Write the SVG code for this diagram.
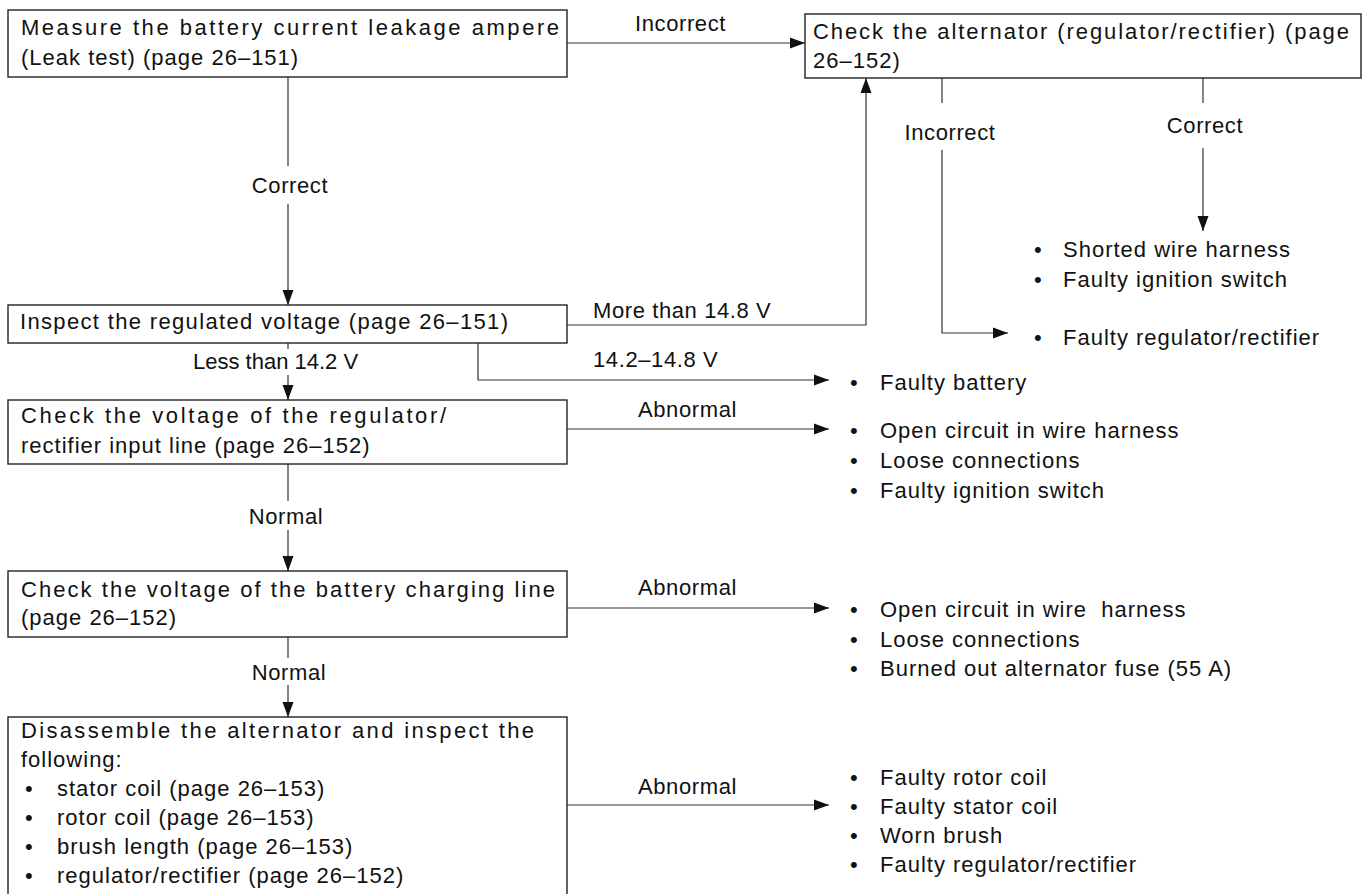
<svg xmlns="http://www.w3.org/2000/svg" width="1365" height="894" viewBox="0 0 1365 894">
  <defs>
    <marker id="arrow" markerUnits="userSpaceOnUse" markerWidth="16" markerHeight="12" refX="15" refY="6" orient="auto">
      <path d="M0,0.5 L15,6 L0,11.5 Z" fill="#111"/>
    </marker>
    <style>
      .box { fill: #fff; stroke: #222; stroke-width: 1.4; }
      .t { font-family: "Liberation Sans", Arial, sans-serif; font-size: 22px; fill: #111; letter-spacing: 1px; }
      .lbl { font-family: "Liberation Sans", Arial, sans-serif; font-size: 22px; fill: #111; letter-spacing: 0.6px; }
      .tight { letter-spacing: 0; }
      .mid { text-anchor: middle; }
      .wire { fill: none; stroke: #333; stroke-width: 1.2; }
      .arr { marker-end: url(#arrow); }
    </style>
  </defs>

  <rect width="1365" height="894" fill="#fff"/>

  <!-- connectors and their branch labels -->
  <g id="connectors">
    <!-- leak test -> alternator check -->
    <path class="wire arr" d="M567,43 H805"/>
    <text class="lbl" x="635" y="31">Incorrect</text>

    <!-- leak test -> regulated voltage -->
    <path class="wire" d="M288,77 V166"/>
    <text class="lbl mid" x="290" y="193">Correct</text>
    <path class="wire arr" d="M288,204 V305"/>

    <!-- regulated voltage -> alternator check -->
    <path class="wire arr" d="M567,325 H866 V78"/>
    <text class="lbl" x="593" y="318">More than 14.8 V</text>

    <!-- regulated voltage -> faulty battery -->
    <path class="wire arr" d="M478,343 V380 H829"/>
    <text class="lbl" x="593" y="367">14.2–14.8 V</text>

    <!-- regulated voltage -> input line check -->
    <path class="wire" d="M288,343 V349"/>
    <text class="lbl tight" x="193" y="369">Less than 14.2 V</text>
    <path class="wire arr" d="M288,375 V400"/>

    <!-- alternator check -> regulator/rectifier fault -->
    <path class="wire" d="M942,78 V103"/>
    <text class="lbl mid" x="950" y="140">Incorrect</text>
    <path class="wire arr" d="M942,150 V333 H1008"/>

    <!-- alternator check -> harness / switch faults -->
    <path class="wire" d="M1203,78 V103"/>
    <text class="lbl mid" x="1205" y="133">Correct</text>
    <path class="wire arr" d="M1203,148 V231"/>

    <!-- input line check -> faults -->
    <path class="wire arr" d="M567,429 H829"/>
    <text class="lbl" x="638" y="417">Abnormal</text>

    <!-- input line check -> charging line check -->
    <path class="wire" d="M288,464 V501"/>
    <text class="lbl mid" x="286" y="524">Normal</text>
    <path class="wire arr" d="M288,530 V571"/>

    <!-- charging line check -> faults -->
    <path class="wire arr" d="M567,608 H829"/>
    <text class="lbl" x="638" y="595">Abnormal</text>

    <!-- charging line check -> disassembly -->
    <path class="wire" d="M288,637 V658"/>
    <text class="lbl mid" x="289" y="680">Normal</text>
    <path class="wire arr" d="M288,685 V717"/>

    <!-- disassembly -> faults -->
    <path class="wire arr" d="M567,805 H829"/>
    <text class="lbl" x="638" y="794">Abnormal</text>
  </g>

  <!-- step boxes -->
  <g id="n-leak">
    <rect class="box" x="8" y="10" width="559" height="67"/>
    <text class="t" x="21" y="35" textLength="539">Measure the battery current leakage ampere</text>
    <text class="t" x="21" y="65">(Leak test) (page 26–151)</text>
  </g>

  <g id="n-alternator">
    <rect class="box" x="805" y="14" width="556" height="64"/>
    <text class="t" x="813" y="39" textLength="537">Check the alternator (regulator/rectifier) (page</text>
    <text class="t" x="813" y="68">26–152)</text>
  </g>

  <g id="n-regulated">
    <rect class="box" x="8" y="305" width="559" height="38"/>
    <text class="t" x="20" y="329" textLength="489">Inspect the regulated voltage (page 26–151)</text>
  </g>

  <g id="n-input">
    <rect class="box" x="8" y="400" width="559" height="64"/>
    <text class="t" x="21" y="423" textLength="426">Check the voltage of the regulator/</text>
    <text class="t" x="21" y="453">rectifier input line (page 26–152)</text>
  </g>

  <g id="n-charging">
    <rect class="box" x="8" y="571" width="559" height="66"/>
    <text class="t" x="21" y="597" textLength="535">Check the voltage of the battery charging line</text>
    <text class="t" x="21" y="625">(page 26–152)</text>
  </g>

  <g id="n-disassemble">
    <rect class="box" x="8" y="717" width="559" height="200"/>
    <text class="t" x="21" y="738" textLength="514">Disassemble the alternator and inspect the</text>
    <text class="t" x="21" y="767">following:</text>
    <text class="t" x="25" y="796">•</text><text class="t" x="57" y="796">stator coil (page 26–153)</text>
    <text class="t" x="25" y="825">•</text><text class="t" x="57" y="825">rotor coil (page 26–153)</text>
    <text class="t" x="25" y="854">•</text><text class="t" x="57" y="854">brush length (page 26–153)</text>
    <text class="t" x="25" y="883">•</text><text class="t" x="57" y="883">regulator/rectifier (page 26–152)</text>
  </g>

  <!-- fault lists -->
  <g id="r-harness-switch">
    <text class="t" x="1034" y="257">•</text><text class="t" x="1063" y="257">Shorted wire harness</text>
    <text class="t" x="1034" y="287">•</text><text class="t" x="1063" y="287">Faulty ignition switch</text>
  </g>

  <g id="r-regulator">
    <text class="t" x="1034" y="345">•</text><text class="t" x="1063" y="345">Faulty regulator/rectifier</text>
  </g>

  <g id="r-battery">
    <text class="t" x="850" y="390">•</text><text class="t" x="880" y="390">Faulty battery</text>
  </g>

  <g id="r-input-faults">
    <text class="t" x="850" y="438">•</text><text class="t" x="880" y="438">Open circuit in wire harness</text>
    <text class="t" x="850" y="468">•</text><text class="t" x="880" y="468">Loose connections</text>
    <text class="t" x="850" y="498">•</text><text class="t" x="880" y="498">Faulty ignition switch</text>
  </g>

  <g id="r-charging-faults">
    <text class="t" x="850" y="617">•</text><text class="t" x="880" y="617" style="white-space:pre">Open circuit in wire  harness</text>
    <text class="t" x="850" y="647">•</text><text class="t" x="880" y="647">Loose connections</text>
    <text class="t" x="850" y="676">•</text><text class="t" x="880" y="676">Burned out alternator fuse (55 A)</text>
  </g>

  <g id="r-alternator-faults">
    <text class="t" x="850" y="785">•</text><text class="t" x="880" y="785">Faulty rotor coil</text>
    <text class="t" x="850" y="814">•</text><text class="t" x="880" y="814">Faulty stator coil</text>
    <text class="t" x="850" y="843">•</text><text class="t" x="880" y="843">Worn brush</text>
    <text class="t" x="850" y="872">•</text><text class="t" x="880" y="872">Faulty regulator/rectifier</text>
  </g>
</svg>
